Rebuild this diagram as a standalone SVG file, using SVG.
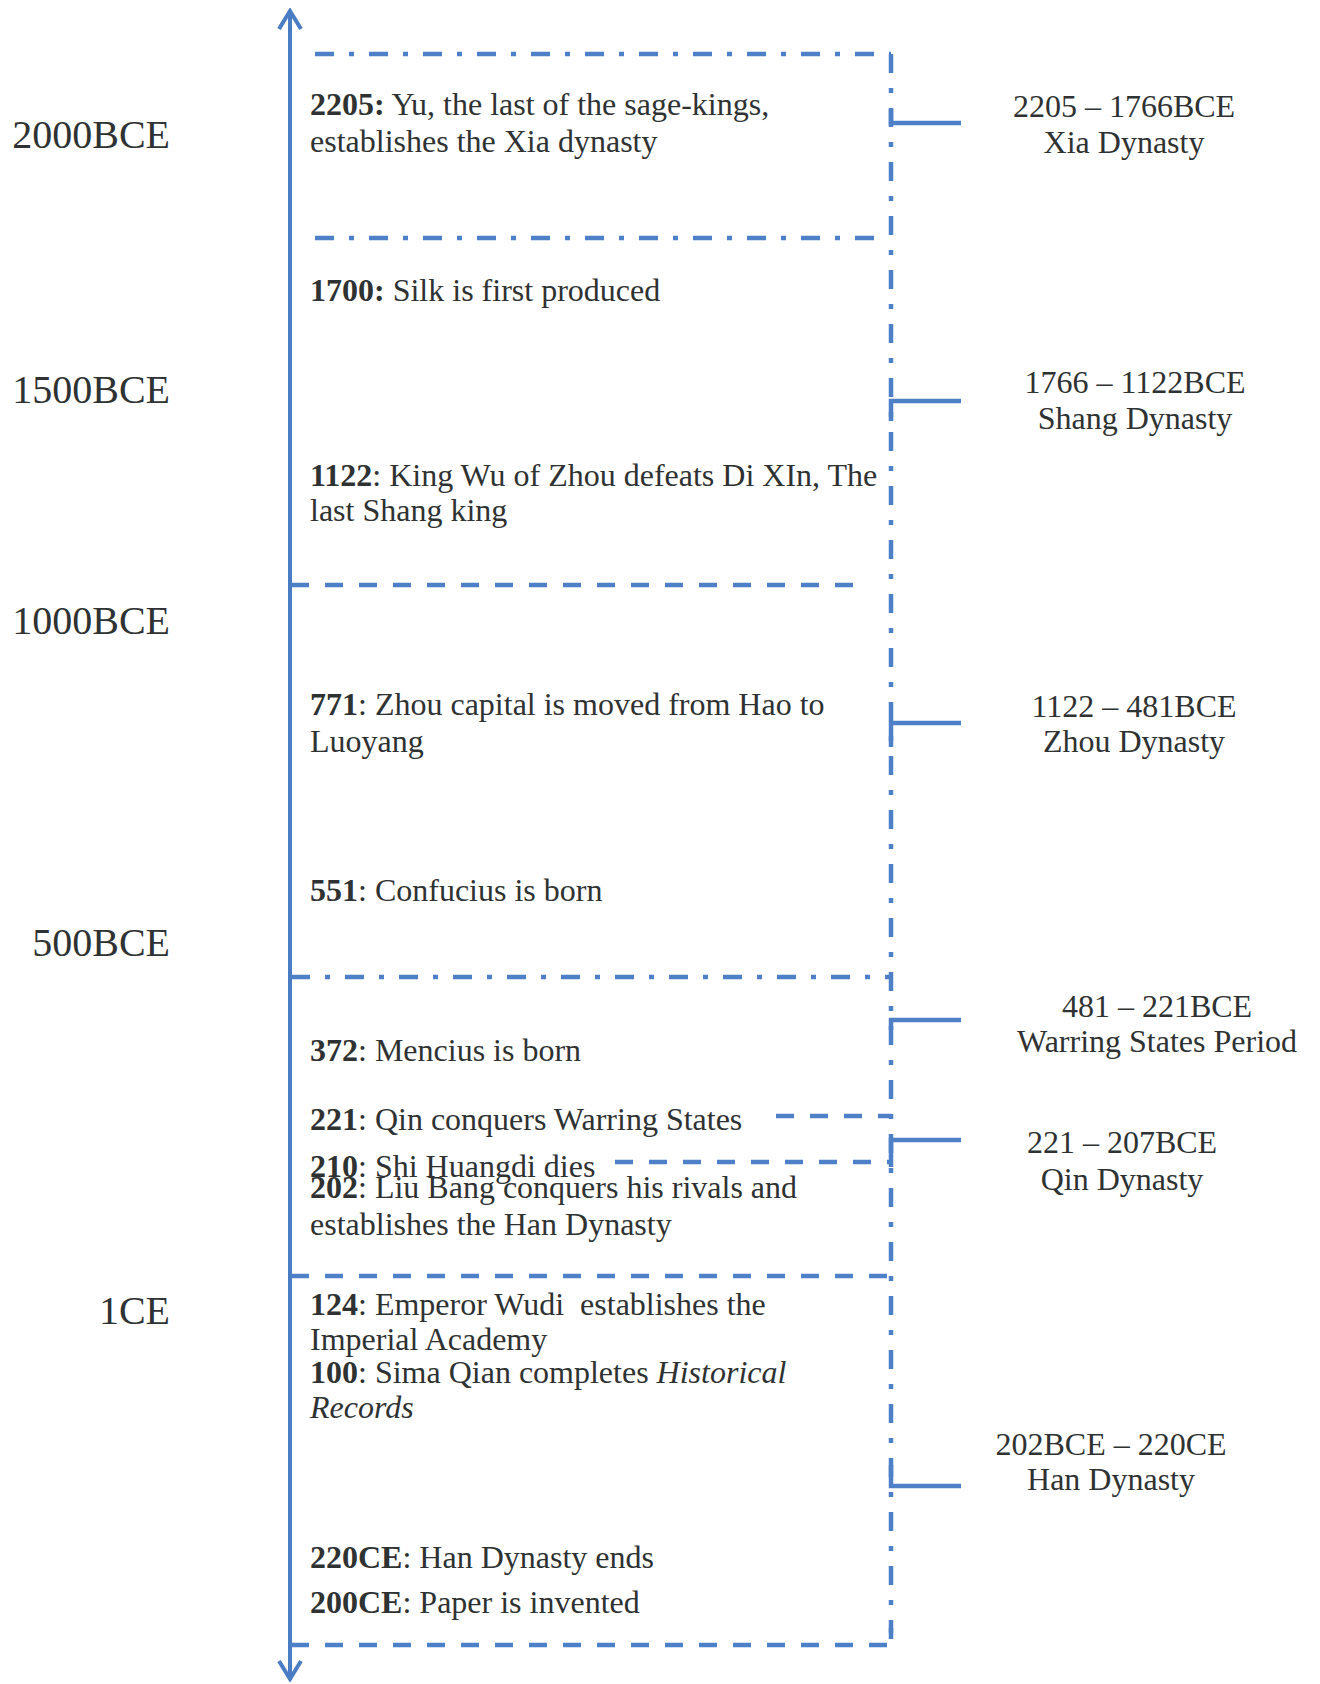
<svg xmlns="http://www.w3.org/2000/svg" width="1320" height="1684" viewBox="0 0 1320 1684">
<style>
  .bg { fill: #ffffff; }
  .t { font-family: "Liberation Serif", "Times New Roman", serif; font-size: 32px; fill: #2f3232; }
  .yr { font-family: "Liberation Serif", "Times New Roman", serif; font-size: 40px; fill: #2f3232; text-anchor: end; }
  .per { font-family: "Liberation Serif", "Times New Roman", serif; font-size: 32px; fill: #2f3232; text-anchor: middle; }
  .b { font-weight: bold; }
  .i { font-style: italic; }
  .axis { stroke: #4a7dc4; stroke-width: 4; fill: none; }
  .dd { stroke: #4d80c6; stroke-width: 4.5; fill: none; stroke-dasharray: 19 15 5 15; }
  .ds { stroke: #4d80c6; stroke-width: 4.5; fill: none; stroke-dasharray: 18 16; }
  .tick { stroke: #4d80c6; stroke-width: 4.5; fill: none; }
</style>
<defs>
  <marker id="chev" viewBox="0 0 24 26" refX="22" refY="13" markerWidth="24" markerHeight="26" markerUnits="userSpaceOnUse" orient="auto-start-reverse">
    <polyline points="3,2 21,13 3,24" fill="none" stroke="#4a7dc4" stroke-width="4"/>
  </marker>
</defs>
<rect class="bg" x="0" y="0" width="1320" height="1684"/>

<g id="connectors">
  <line id="time-axis" class="axis" x1="290" y1="1680" x2="290" y2="10" marker-start="url(#chev)" marker-end="url(#chev)"/>
  <line class="dd" x1="891" y1="54" x2="891" y2="1645"/>
</g>

<g id="box-xia">
  <line class="dd" x1="315" y1="54" x2="891" y2="54"/>
  <line class="dd" x1="315" y1="238" x2="876" y2="238"/>
</g>
<g id="box-shang">
  <line class="ds" x1="291" y1="585" x2="860" y2="585"/>
</g>
<g id="box-zhou">
  <line class="dd" x1="291" y1="977" x2="891" y2="977"/>
</g>
<g id="box-warring">
  <line class="ds" x1="776" y1="1116" x2="891" y2="1116"/>
</g>
<g id="box-qin">
  <line class="ds" x1="615" y1="1162" x2="891" y2="1162"/>
</g>
<g id="box-han">
  <line class="ds" x1="291" y1="1276" x2="891" y2="1276"/>
  <path class="ds" d="M291 1645 H891 V1628"/>
</g>

<g id="brackets">
  <path class="tick" d="M891 109 V123 H961"/>
  <path class="tick" d="M891 421 V401 H961"/>
  <path class="tick" d="M891 747 V723 H961"/>
  <path class="tick" d="M891 1030 V1020 H961"/>
  <path class="tick" d="M891 1167 V1140 H961"/>
  <path class="tick" d="M891 1465 V1486 H961"/>
</g>

<g id="scale-labels">
  <text class="yr" x="170" y="148">2000BCE</text>
  <text class="yr" x="170" y="403">1500BCE</text>
  <text class="yr" x="170" y="634">1000BCE</text>
  <text class="yr" x="170" y="956">500BCE</text>
  <text class="yr" x="170" y="1324">1CE</text>
</g>

<g id="event-2205">
  <text class="t" x="310" y="115"><tspan class="b">2205:</tspan> Yu, the last of the sage-kings,</text>
  <text class="t" x="310" y="152">establishes the Xia dynasty</text>
</g>
<g id="event-1700">
  <text class="t" x="310" y="301"><tspan class="b">1700:</tspan> Silk is first produced</text>
</g>
<g id="event-1122">
  <text class="t" x="310" y="486"><tspan class="b">1122</tspan>: King Wu of Zhou defeats Di XIn, The</text>
  <text class="t" x="310" y="521">last Shang king</text>
</g>
<g id="event-771">
  <text class="t" x="310" y="715"><tspan class="b">771</tspan>: Zhou capital is moved from Hao to</text>
  <text class="t" x="310" y="752">Luoyang</text>
</g>
<g id="event-551">
  <text class="t" x="310" y="901"><tspan class="b">551</tspan>: Confucius is born</text>
</g>
<g id="event-372">
  <text class="t" x="310" y="1061"><tspan class="b">372</tspan>: Mencius is born</text>
</g>
<g id="event-221">
  <text class="t" x="310" y="1130"><tspan class="b">221</tspan>: Qin conquers Warring States</text>
</g>
<g id="event-210">
  <text class="t" x="310" y="1177"><tspan class="b">210</tspan>: Shi Huangdi dies</text>
</g>
<g id="event-202">
  <text class="t" x="310" y="1198"><tspan class="b">202</tspan>: Liu Bang conquers his rivals and</text>
  <text class="t" x="310" y="1235">establishes the Han Dynasty</text>
</g>
<g id="event-124">
  <text class="t" x="310" y="1315" xml:space="preserve"><tspan class="b">124</tspan>: Emperor Wudi  establishes the</text>
  <text class="t" x="310" y="1350">Imperial Academy</text>
</g>
<g id="event-100">
  <text class="t" x="310" y="1383"><tspan class="b">100</tspan>: Sima Qian completes <tspan class="i">Historical</tspan></text>
  <text class="t i" x="310" y="1418">Records</text>
</g>
<g id="event-220ce">
  <text class="t" x="310" y="1568"><tspan class="b">220CE</tspan>: Han Dynasty ends</text>
</g>
<g id="event-200ce">
  <text class="t" x="310" y="1613"><tspan class="b">200CE</tspan>: Paper is invented</text>
</g>

<g id="period-xia">
  <text class="per" x="1124" y="117">2205 – 1766BCE</text>
  <text class="per" x="1124" y="153">Xia Dynasty</text>
</g>
<g id="period-shang">
  <text class="per" x="1135" y="393">1766 – 1122BCE</text>
  <text class="per" x="1135" y="429">Shang Dynasty</text>
</g>
<g id="period-zhou">
  <text class="per" x="1134" y="717">1122 – 481BCE</text>
  <text class="per" x="1134" y="752">Zhou Dynasty</text>
</g>
<g id="period-warring">
  <text class="per" x="1157" y="1017">481 – 221BCE</text>
  <text class="per" x="1157" y="1052">Warring States Period</text>
</g>
<g id="period-qin">
  <text class="per" x="1122" y="1153">221 – 207BCE</text>
  <text class="per" x="1122" y="1190">Qin Dynasty</text>
</g>
<g id="period-han">
  <text class="per" x="1111" y="1455">202BCE – 220CE</text>
  <text class="per" x="1111" y="1490">Han Dynasty</text>
</g>
</svg>
